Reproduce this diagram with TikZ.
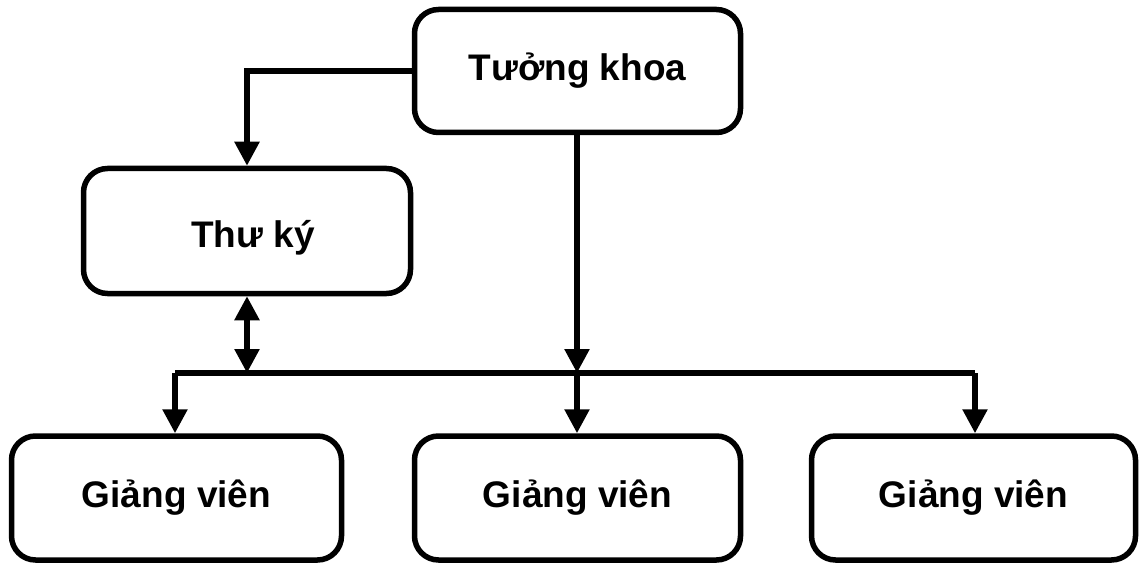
\documentclass[tikz,border=0pt]{standalone}
\usepackage{fontspec}
\setmainfont{Liberation Sans}
\usetikzlibrary{arrows.meta}
\begin{document}
\begin{tikzpicture}[x=1pt,y=-1pt,
  box/.style={draw,line width=5.5pt,rounded corners=24pt,inner sep=0pt,font=\bfseries\fontsize{37}{44}\selectfont},
  conn/.style={line width=5.5pt,-{Triangle[length=24pt,width=24pt]}},
  dconn/.style={line width=5.5pt,{Triangle[length=24pt,width=24pt]}-{Triangle[length=24pt,width=24pt]}}]
\useasboundingbox (0,0) rectangle (1139,564);
\node[box,minimum width=326pt,minimum height=123pt] (tk) at (577.5,71) {Tưởng khoa};
\node[box,minimum width=327pt,minimum height=125pt] (thu) at (247,231) {};
\node[font=\bfseries\fontsize{37}{44}\selectfont] (thut) at (253,238) {Thư ký};
\node[box,minimum width=330pt,minimum height=124pt] (g1) at (176.5,498) {Giảng viên};
\node[box,minimum width=326pt,minimum height=124pt] (g2) at (577.5,498) {Giảng viên};
\node[box,minimum width=324pt,minimum height=124pt] (g3) at (973.5,498) {Giảng viên};
\coordinate (bl) at (175,373);
\coordinate (bm) at (577,373);
\coordinate (br) at (975,373);
\coordinate (bt) at (247,373);
\draw[conn] (tk.west) -| (thu.north);
\draw[conn] (tk.south -| bm) -- (bm);
\draw[line width=5.5pt] (bl) -- (br);
\draw[conn] (bl) -- (bl |- g1.north);
\draw[conn] (bm) -- (bm |- g2.north);
\draw[conn] (br) -- (br |- g3.north);
\draw[dconn] (thu.south) -- (bt);
\end{tikzpicture}
\end{document}
